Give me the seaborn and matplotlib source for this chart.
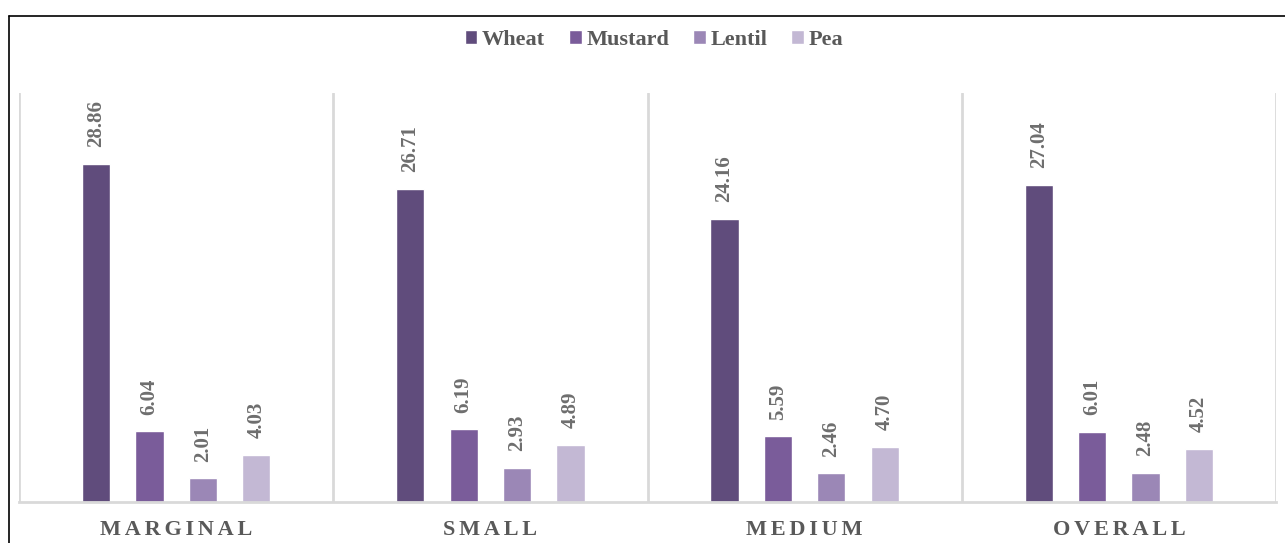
import matplotlib
matplotlib.use("Agg")
import matplotlib.pyplot as plt
from matplotlib.lines import Line2D
import seaborn as sns
import pandas as pd

categories = ["MARGINAL", "SMALL", "MEDIUM", "OVERALL"]
crops = ["Wheat", "Mustard", "Lentil", "Pea"]
wheat = [28.86, 26.71, 24.16, 27.04]
mustard = [6.04, 6.19, 5.59, 6.01]
lentil = [2.01, 2.93, 2.46, 2.48]
pea = [4.03, 4.89, 4.70, 4.52]
colors = ["#604C7C", "#7A5C9A", "#9B87B6", "#C3B8D4"]

rows = []
for crop, vals in zip(crops, [wheat, mustard, lentil, pea]):
    for cat, v in zip(categories, vals):
        rows.append({"Category": cat, "Crop": crop, "Value": v})
df = pd.DataFrame(rows)

sns.set_theme(style="white")
plt.rcParams["font.family"] = ["Liberation Serif", "DejaVu Serif"]

fig = plt.figure(figsize=(12.85, 5.43), dpi=100)
ax = fig.add_axes([19 / 1285, 41 / 543, (1276 - 19) / 1285, (502 - 93) / 543])

sns.barplot(data=df, x="Category", y="Value", hue="Crop", order=categories,
            hue_order=crops, palette=colors, width=0.68, gap=0.47,
            saturation=1, ax=ax, legend=True, errorbar=None)

ax.set_ylim(0, 34.9)
ax.set_xlim(-0.5, 3.5)
ax.set_yticks([])
ax.set_ylabel("")
ax.set_xlabel("")

for cont in ax.containers:
    ax.bar_label(cont, fmt="%.2f", rotation=90, padding=12, fontsize=15,
                 fontweight="bold", color="#6E6E6E")

# separators between groups
for xpos in [-0.5, 0.5, 1.5, 2.5, 3.5]:
    ax.axvline(xpos, color="#D9D9D9", lw=2, zorder=0)

for s in ["top", "left", "right"]:
    ax.spines[s].set_visible(False)
ax.spines["bottom"].set_color("#D9D9D9")
ax.spines["bottom"].set_linewidth(2)

ax.set_xticks(range(len(categories)))
ax.set_xticklabels(["\u200a\u200a".join(c) for c in categories])
ax.tick_params(axis="x", length=0, pad=13)
for lab in ax.get_xticklabels():
    lab.set_fontsize(16)
    lab.set_fontweight("bold")
    lab.set_color("#595959")

leg = ax.legend(loc="center", bbox_to_anchor=(654 / 1285, 1 - 40 / 543),
                bbox_transform=fig.transFigure, ncol=4, frameon=False,
                handlelength=0.55, handleheight=0.55, handletextpad=0.2,
                columnspacing=1.1,
                prop={"family": "Liberation Serif", "weight": "bold", "size": 16})
for t in leg.get_texts():
    t.set_color("#595959")

# outer border lines (top and left)
fig.add_artist(Line2D([9 / 1285, 1.0], [1 - 16 / 543, 1 - 16 / 543],
                      transform=fig.transFigure, color="black", lw=1.2))
fig.add_artist(Line2D([9 / 1285, 9 / 1285], [0, 1 - 16 / 543],
                      transform=fig.transFigure, color="black", lw=1.2))

fig.savefig("out.png", dpi=100, facecolor="white")
